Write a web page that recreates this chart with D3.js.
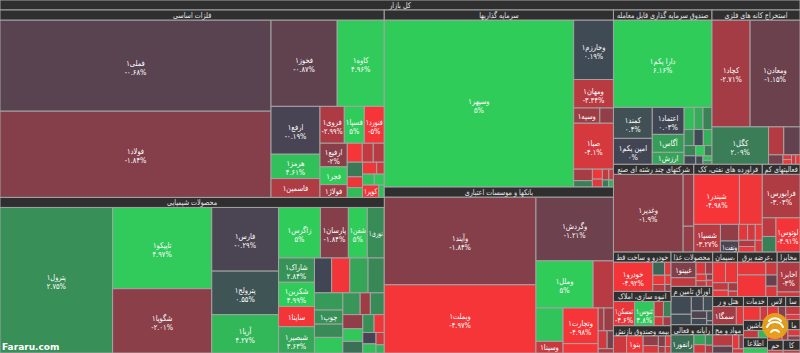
<!DOCTYPE html>
<html><head><meta charset="utf-8">
<script src="https://cdn.jsdelivr.net/npm/d3@7"></script>
<style>
body{margin:0;background:#ffffff;}
svg{display:block;}
text{font-family:"DejaVu Sans",sans-serif;}
</style>
</head><body>
<svg id="chart" width="800" height="353"></svg>
<script>
// ---------- DATA ----------
const rootName = "کل بازار";
const sectorNames = [
  "فلزات اساسی","محصولات شیمیایی","سرمایه گذاریها","بانکها و موسسات اعتباری",
  "صندوق سرمایه گذاری قابل معامله","استخراج کانه های فلزی",
  "شرکتهای چند رشته ای صنعتی","فراورده های نفتی، کک و سوخت هسته ای","فعالیتهای کمکی به نهادهای مالی واسط",
  "خودرو و ساخت قطعات","انبوه سازی، املاک و مستغلات","بیمه وصندوق بازنشستگی به جزتامین اجتماعی",
  "محصولات غذایی و آشامیدنی به جز قند و شکر","اوراق تامین مالی","رایانه و فعالیت‌های وابسته به آن",
  "سیمان، آهک و گچ","عرضه برق، گاز، بخاروآب گرم","مخابرات",
  "هتل و رستوران","مواد و محصولات دارویی",
  "خدمات فنی و مهندسی","ماشین آلات و تجهیزات","اطلاعات و ارتباطات","لاستیک و پلاستیک",
  "سایر محصولات کانی غیرفلزی","زراعت و خدمات وابسته","ماشین آلات و دستگاه‌های برقی","حمل و نقل","کاشی و سرامیک"
];
// [ticker, market value, % change]
const metals = [["فملی",26080,-0.68],["فولاد",24660,-1.84],["فخوز",6030,-0.87],["کاوه",4290,4.96],
  ["ارفع",2470,-0.19],["هرمز",1260,4.61],["فاسمین",975,-3.04],["فروی",945,-2.99],["فسپا",777,5],["فنورد",777,-5],
  ["ارفیع",680,-2],["فجر",510,4.98],["فولاژ",369,-2.6],
  ["",300,-5],["",220,-3.6],["",220,-3.3],["",236,1.9],["",173,-4.7],["",158,4.4],
  ["",178,-4.8],["",95,-4],["",136,4.6],["",116,4.8],["کویر",210,-4.85],["",74,4.5]];
const chemicals = [["پترول",17500,2.75],["تاپیکو",8600,4.97],["شگویا",6805,-2.01],["فارس",4542,-0.29],
  ["پترولح",3100,0.55],["آریا",2740,4.27],["زاگرس",2260,5],["پارسان",1506,-1.84],["شفن",1022,5],["نوری",915,2.64],
  ["شاراک",930,2.84],["شکربن",930,4.99],["ساینا",775,-4.93],["شبصیر",1007,3.63],
  ["",640,0.05],["",678,-4.9],["",678,3.6],["",603,2.4],
  ["",521,3.2],["چوپ",426,2.8],["",402,2.6],
  ["",473,4.8],["",402,3],["",237,-2.6],
  ["",323,2.6],["",301,-2.2],["",269,4.8],["",247,1.6],["",215,2.8],["کلر",194,-4.8],["",161,-0.2],["",129,4.5],["",108,-4],["",72,4]];
const investments = [["وسپهر",33500,5],["وخارزم",2506,0.19],["ومهان",1200,-3.34],["وسپه",421,-2.6],["",219,-2.2],
  ["صبا",1934,-4.1],["",228,-2.8],
  ["",126,2.2],["",105,-4.8],["",84,-4.5],["",74,-3.5],["",53,-4],["",47,2],["",36,4]];
const banks = [["وآیند",14150,-1.84],["وبملت",11000,-4.97],["وگردش",5260,-1.21],["وملل",2860,5],["",1020,-3.3],
  ["",960,4.7],["وسینا",335,-3.7],["وتجارت",1330,-4.98],["دی",350,-5],["",140,-3],
  ["",230,-2.5],["",170,-4],["",120,-1.5],["",70,-3]];
const etfs = [["دارا یکم",9200,6.16],["کمند",1283,0.4],["امین یکم",1076,0],["اعتماد",917,0.03],["آگاس",611,3.26],
  ["ارزش",407,3.5],["توان",239,4.5],["",207,3.8],
  ["",212,2.3],["",170,2.6],["",159,0.2],["",149,4],["",127,2.3],["",106,0.1],["",95,4.9],["",85,2],["",64,0.1],["",42,4.5],["",38,3]];
const mining = [["کچاد",4350,-2.71],["ومعادن",5700,-1.15],["کگل",2260,2.09],["",454,-3.2],["",484,-0.9],
  ["",146,-1.4],["",43,-4.5],["",43,-4.8],["",43,-4],["",43,-4.6]];
const conglomerates = [["وغدیر",6112,-1.9],["",624,-2.4],["",311,-2.3]];
const petroleum = [["شبندر",2576,-4.98],["",1288,-4.8],["شسپا",832,-3.27],["",343,-2.2],["ونفت",229,-0.3],
  ["",160,-4.5],["",137,-4],["",126,-4.8],["",114,-3],["",103,-4.9],["",96,-4.2]];
const support = [["فرابورس",1851,-3.03],["",287,-3.4],["",241,2.2],["لوتوس",928,-4.91]];
const autos = [["خودرو",1546,-4.92],["",207,1.2],["",113,-4.5],["",151,-4.7],["",113,-3.5],["",75,-4.6],["",57,-2.5]];
const realEstate = [["ثمسکن",723,-4.6],["ثنوس",672,4.8],["",202,-3.5],["",164,2.3],["",113,-4.3],["",100,-2.7]];
const insurance = [["",356,-3.8],["بنو",451,-4.8],["",237,-2.2],["",178,-4.2],["",119,-1.8],["",95,-4.5],["",71,-3],["",59,-4]];
const food = [["غبینو",551,-1.8],["",306,-3.6],["",163,-4.3],["",122,-2.5],["",95,-4.6],["",82,-3.6],["",54,-2],["",55,-4.2]];
const bonds = [["",490,0.2],["",288,0.3],["",236,0.1],["",183,0.4],["",157,-0.4],["",131,0.2],["",79,0.3],["",32,0.1]];
const computers = [["رانفور",647,1.51],["",176,3.5],["",147,-4],["",118,2.5],["",88,-3]];
const cement = [["",343,-4.8],["",317,-4.7],["",151,-3.5],["",126,-4.9],["",100,-2.8],["",63,-4]];
const utilities = [["",471,-4.6],["",786,-4.9],["",189,-3.9],["",163,-1.1],["",151,-4.3]];
const telecom = [["اخابر",880,-3],["",132,-4]];
const hotels = [["سمگا",667,-2.7],["",201,-4.5]];
const pharma = [["",350,-3.3],["",210,-0.8],["",140,-4.6],["",98,-2],["",70,-4]];
const engineering = [["",400,-4.8],["",174,-4]];
const machinery = [["",260,-3.5],["",160,4.2]];
const ict = [["",364,4.8]];
const rubber = [["",250,-4.5],["",170,-2]];
const minerals = [["",200,-3.6],["",130,-4.8]];
const farming = [["",300,-4.5],["",120,-3]];
const electrical = [["",150,-4.4],["",100,-2]];
const transport = [["",200,-4.7]];
const ceramics = [["",214,-3.8]];

const sectorLeaves = [metals,chemicals,investments,banks,etfs,mining,conglomerates,petroleum,support,
  autos,realEstate,insurance,food,bonds,computers,cement,utilities,telecom,hotels,pharma,
  engineering,machinery,ict,rubber,minerals,farming,electrical,transport,ceramics];

// ---------- CHART ----------
const W = 800, H = 353;
const svg = d3.select("#chart");
const color = d3.scaleLinear().domain([-5,0,5]).range(["#f63538","#414554","#30cc5a"]).clamp(true);
const faDigits = s => s.replace(/\d/g, d => "۰۱۲۳۴۵۶۷۸۹"[+d]);
const fmtPct = c => (c < 0 ? "-" : "") + faDigits(String(+Math.abs(c).toFixed(2))) + "%";
const tickerLabel = n => n + "۱";

const data = {name: rootName, children: sectorNames.map((n,i) => ({
  name: n, children: sectorLeaves[i].map(([t,v,c]) => ({name: t, value: v, change: c}))
}))};
const root = d3.hierarchy(data).sum(d => d.value || 0);
d3.treemap().size([W,H]).tile(d3.treemapSquarify)
  .paddingTop(d => d.depth < 2 ? 10 : 0)(root);

const HEAD = "#2f2f2f", LINE = "#a3a3a3", SQ = 0.84, HSQ = 0.8;

// place a text at (cx, y) squeezed horizontally (the original face is narrower than DejaVu)
function place(t, cx, y, s){ t.attr("x", 0).attr("y", 0).attr("transform", `translate(${cx},${y}) scale(${s},1)`); }
function squeezeFactor(t, maxW, minSq){
  const L = t.node().getComputedTextLength();
  if (L * minSq > maxW) return 0;
  return Math.min(SQ, maxW / L);
}

// leaves
const leaves = svg.append("g").selectAll("g").data(root.leaves()).join("g");
leaves.append("rect")
  .attr("x", d => d.x0).attr("y", d => d.y0)
  .attr("width", d => Math.max(0, d.x1 - d.x0)).attr("height", d => Math.max(0, d.y1 - d.y0))
  .attr("fill", d => color(d.data.change))
  .attr("stroke", LINE).attr("stroke-width", 1);

leaves.each(function(d){
  if (!d.data.name) return;
  const g = d3.select(this);
  const w = d.x1 - d.x0, h = d.y1 - d.y0;
  const cx = (d.x0 + d.x1) / 2, cy = (d.y0 + d.y1) / 2;
  if (h < 10) return;
  const t1 = g.append("text").attr("text-anchor", "middle")
    .attr("font-size", 8).attr("fill", "#ffffff").text(tickerLabel(d.data.name));
  const s1 = squeezeFactor(t1, w - 3, 0.62);
  if (!s1){ t1.remove(); return; }
  if (h >= 22){
    const t2 = g.append("text").attr("text-anchor", "middle")
      .attr("font-size", 8).attr("fill", "#ffffff").text(fmtPct(d.data.change));
    const s2 = squeezeFactor(t2, w - 3, 0.62);
    if (!s2){ t2.remove(); place(t1, cx, cy + 3, s1); }
    else { place(t1, cx, cy, s1); place(t2, cx, cy + 9, s2); }
  } else {
    place(t1, cx, cy + 3, s1);
  }
});

// sector headers
const heads = svg.append("g").selectAll("g").data(root.descendants().filter(d => d.depth < 2)).join("g");
heads.append("rect")
  .attr("x", d => d.x0).attr("y", d => d.y0)
  .attr("width", d => d.x1 - d.x0).attr("height", 10)
  .attr("fill", HEAD).attr("stroke", LINE).attr("stroke-width", 1);
heads.each(function(d){
  const t = d3.select(this).append("text")
    .attr("text-anchor", "middle").attr("font-size", 8).attr("fill", "#e6e6e6");
  const maxW = d.x1 - d.x0 - 4;
  let s = d.data.name;
  t.text(s);
  while (s.length > 0 && t.node().getComputedTextLength() * HSQ > maxW){ s = s.slice(0, -1); t.text(s); }
  place(t, (d.x0 + d.x1) / 2, d.y0 + 8, HSQ);
});

// watermark text and logo
svg.append("text").attr("x", 2).attr("y", 350).attr("font-size", 9).attr("font-weight", "bold")
  .attr("fill", "#ffffff").text("Fararu.com");
const logo = svg.append("g").attr("transform", "translate(775,326)");
logo.append("circle").attr("r", 13).attr("fill", "#e9a21b").attr("opacity", 0.95);
logo.append("path").attr("d", "M-6,-5 A8,8 0 0 1 6,-5 M-8,1 A9,9 0 0 1 8,1 M-4,6 A5,5 0 0 1 4,6")
  .attr("fill", "none").attr("stroke", "#ffffff").attr("stroke-width", 2).attr("stroke-linecap", "round");
</script>
</body></html>
